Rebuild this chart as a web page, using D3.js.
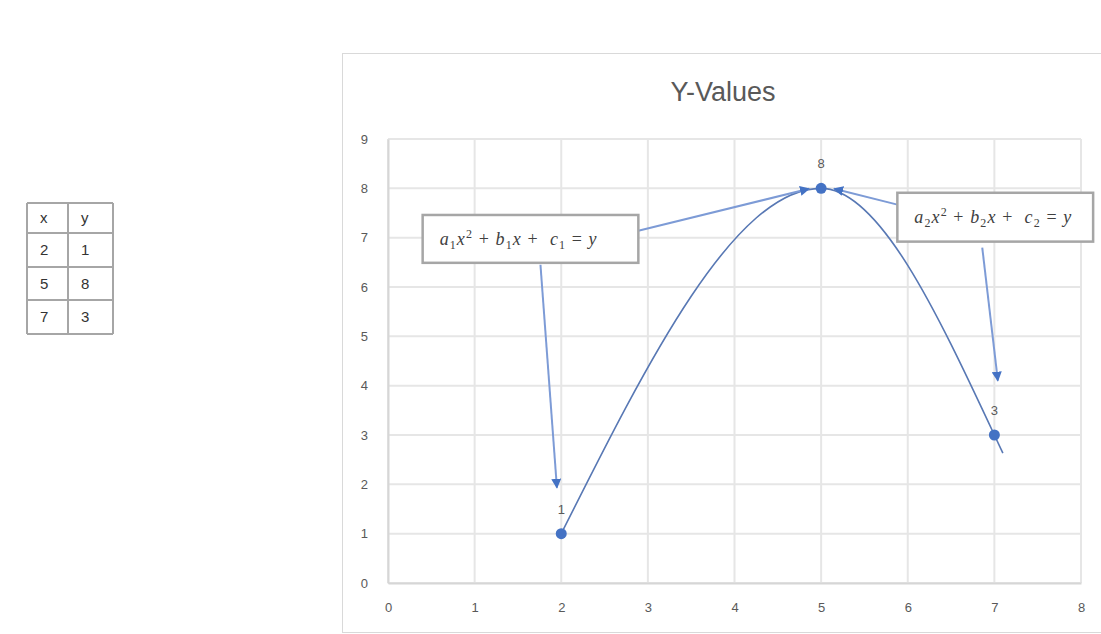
<!DOCTYPE html>
<html>
<head>
<meta charset="utf-8">
<script src="https://cdn.jsdelivr.net/npm/d3@7"></script>
<style>
  html, body { margin: 0; padding: 0; background: #ffffff; }
  svg { display: block; }
</style>
</head>
<body>
<svg id="chart" width="1101" height="634"></svg>
<script>
// Data points for the chart
const xValues = [2, 5, 7];
const yValues = [1, 8, 3];
const xTicks = [0, 1, 2, 3, 4, 5, 6, 7, 8];
const yTicks = [0, 1, 2, 3, 4, 5, 6, 7, 8, 9];
const chartTitle = "Y-Values";
const tableHeader = ["x", "y"];

// Callout annotations: box extent and arrow endpoints in data units
const callouts = [
  {
    coef: "1",
    box: { x0: 0.40, x1: 2.89, y0: 7.46, y1: 6.49 },
    arrows: [
      { from: [2.89, 7.14], to: [4.86, 7.99] },
      { from: [1.76, 6.45], to: [1.95, 1.93] }
    ]
  },
  {
    coef: "2",
    box: { x0: 5.88, x1: 8.14, y0: 7.91, y1: 6.92 },
    arrows: [
      { from: [5.88, 7.67], to: [5.15, 7.99] },
      { from: [6.86, 6.80], to: [7.04, 4.10] }
    ]
  }
];

const svg = d3.select("#chart");
const font = "'Liberation Sans', Arial, sans-serif";
const textGray = "#595959";

// ----- data table on the left -----
const rows = [tableHeader].concat(xValues.map((x, i) => [String(x), String(yValues[i])]));
const colX = [27, 68, 113];
const rowY = [203, 233, 267, 300, 334];
const table = svg.append("g");
rows.forEach((r, i) => {
  r.forEach((v, j) => {
    table.append("text")
      .attr("x", colX[j] + 13)
      .attr("y", (rowY[i] + rowY[i + 1]) / 2 + 5)
      .attr("font-family", font)
      .attr("font-size", 15)
      .attr("fill", "#333333")
      .text(v);
  });
});
rowY.forEach(y => table.append("line")
  .attr("x1", colX[0]).attr("x2", colX[2]).attr("y1", y).attr("y2", y)
  .attr("stroke", "#a6a6a6").attr("stroke-width", 2));
colX.forEach(x => table.append("line")
  .attr("x1", x).attr("x2", x).attr("y1", rowY[0]).attr("y2", rowY[rowY.length - 1])
  .attr("stroke", "#a6a6a6").attr("stroke-width", 2));

// ----- chart frame -----
svg.append("rect")
  .attr("x", 342.5).attr("y", 53.5).attr("width", 800).attr("height", 579)
  .attr("fill", "#ffffff").attr("stroke", "#d9d9d9").attr("stroke-width", 1);

svg.append("text")
  .attr("x", 723).attr("y", 101)
  .attr("text-anchor", "middle")
  .attr("font-family", font)
  .attr("font-size", 27)
  .attr("fill", textGray)
  .text(chartTitle);

// ----- scales -----
const x = d3.scaleLinear().domain([0, 8]).range([388, 1081]);
const y = d3.scaleLinear().domain([0, 9]).range([583, 139]);

// gridlines
const grid = svg.append("g");
grid.selectAll("line.v").data(xTicks).join("line")
  .attr("x1", d => x(d)).attr("x2", d => x(d))
  .attr("y1", y(9)).attr("y2", y(0))
  .attr("stroke", "#e6e6e6").attr("stroke-width", 2);
grid.selectAll("line.h").data(yTicks).join("line")
  .attr("x1", x(0)).attr("x2", x(8))
  .attr("y1", d => y(d)).attr("y2", d => y(d))
  .attr("stroke", "#e6e6e6").attr("stroke-width", 2);

// axes (labels only, lines drawn in gray)
const xAxis = svg.append("g").attr("transform", `translate(0,${y(0)})`)
  .call(d3.axisBottom(x).tickValues(xTicks).tickSize(0).tickPadding(20));
const yAxis = svg.append("g").attr("transform", `translate(${x(0)},0)`)
  .call(d3.axisLeft(y).tickValues(yTicks).tickSize(0).tickPadding(20));
[xAxis, yAxis].forEach(a => {
  a.select(".domain").attr("stroke", "#d6d6d6").attr("stroke-width", 2);
  a.selectAll("text").attr("font-family", font).attr("font-size", 13).attr("fill", textGray);
});

// ----- smooth curve through the points -----
const pts = xValues.map((d, i) => [d, yValues[i]]);
const line = d3.line().x(d => x(d[0])).y(d => y(d[1])).curve(d3.curveMonotoneX);
const curve = svg.append("path")
  .attr("d", line(pts))
  .attr("fill", "none")
  .attr("stroke", "#5878b4")
  .attr("stroke-width", 1.6);

// continue the curve a little past the last point along its end tangent
const node = curve.node();
const L = node.getTotalLength();
const pA = node.getPointAtLength(L - 2), pB = node.getPointAtLength(L);
const dx = pB.x - pA.x, dy = pB.y - pA.y, dl = Math.hypot(dx, dy);
svg.append("line")
  .attr("x1", pB.x).attr("y1", pB.y)
  .attr("x2", pB.x + dx / dl * 20).attr("y2", pB.y + dy / dl * 20)
  .attr("stroke", "#5878b4").attr("stroke-width", 1.6);

// markers
svg.selectAll("circle.pt").data(pts).join("circle")
  .attr("cx", d => x(d[0])).attr("cy", d => y(d[1])).attr("r", 5.5)
  .attr("fill", "#4472c4");

// data labels
svg.selectAll("text.lbl").data(pts).join("text")
  .attr("x", d => x(d[0])).attr("y", d => y(d[1]) - 20)
  .attr("text-anchor", "middle")
  .attr("font-family", font).attr("font-size", 13).attr("fill", textGray)
  .text(d => d[1]);

// ----- callouts -----
const defs = svg.append("defs");
defs.append("marker")
  .attr("id", "arrow")
  .attr("viewBox", "0 0 10 10")
  .attr("refX", 9).attr("refY", 5)
  .attr("markerWidth", 5).attr("markerHeight", 5)
  .attr("markerUnits", "strokeWidth")
  .attr("orient", "auto")
  .append("path").attr("d", "M0,0 L10,5 L0,10 Z").attr("fill", "#4472c4");

const serif = "'Liberation Serif', 'DejaVu Serif', serif";
callouts.forEach(c => {
  c.arrows.forEach(a => {
    svg.append("line")
      .attr("x1", x(a.from[0])).attr("y1", y(a.from[1]))
      .attr("x2", x(a.to[0])).attr("y2", y(a.to[1]))
      .attr("stroke", "#7d9bd6").attr("stroke-width", 2)
      .attr("marker-end", "url(#arrow)");
  });
  const bx = x(c.box.x0), by = y(c.box.y0);
  const bw = x(c.box.x1) - bx, bh = y(c.box.y1) - by;
  svg.append("rect")
    .attr("x", bx).attr("y", by).attr("width", bw).attr("height", bh)
    .attr("fill", "#ffffff").attr("stroke", "#a6a6a6").attr("stroke-width", 2.5);

  const t = svg.append("text")
    .attr("x", bx + 17).attr("y", by + bh / 2 + 6)
    .attr("font-family", serif).attr("font-size", 18).attr("fill", "#404040")
    .attr("letter-spacing", 1.1);
  const k = c.coef;
  const parts = [
    ["a", 0, true], [k, 4, false, 12], ["x", 0, true], ["2", -7, false, 12],
    [" + ", 0, false], ["b", 0, true], [k, 4, false, 12], ["x", 0, true],
    [" +  ", 0, false], ["c", 0, true], [k, 4, false, 12], [" = ", 0, false], ["y", 0, true]
  ];
  let prevShift = 0;
  parts.forEach(p => {
    t.append("tspan")
      .attr("dy", p[1] - prevShift)
      .attr("font-style", p[2] ? "italic" : "normal")
      .attr("font-size", p[3] || 18)
      .attr("xml:space", "preserve")
      .text(p[0]);
    prevShift = p[1];
  });
});
</script>
</body>
</html>
